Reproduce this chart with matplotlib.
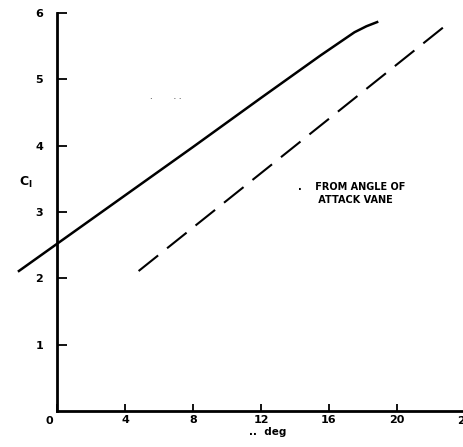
import matplotlib
matplotlib.use("Agg")
import matplotlib.pyplot as plt

# solid curve: lift coefficient vs angle
alpha_solid = [-2.3, 0, 4, 8, 12, 15.5, 17.5, 18.2, 18.9]
cl_solid = [2.10, 2.52, 3.25, 3.98, 4.72, 5.36, 5.71, 5.80, 5.87]

# dashed curve: from angle of attack vane
alpha_vane = [4.8, 22.9]
cl_vane = [2.11, 5.82]

xticks = [0, 4, 8, 12, 16, 20]
xlabels = ['', '4', '8', '12', '16', '20']
yticks = [1, 2, 3, 4, 5, 6]

plt.rcParams['font.family'] = ['DejaVu Sans']
fig = plt.figure(figsize=(4.63, 4.47), dpi=100)
ax = fig.add_axes([57 / 463, 1 - 411 / 447, 406 / 463, 398 / 447])

ax.plot(alpha_solid, cl_solid, color='black', lw=1.8, clip_on=False,
        solid_capstyle='butt')
ax.plot(alpha_vane, cl_vane, color='black', lw=1.5, dashes=(12, 5.5),
        clip_on=False)

ax.set_xlim(0, 406 / 17)
ax.set_ylim(0, 6)
for s in ['top', 'right']:
    ax.spines[s].set_visible(False)
for s in ['left', 'bottom']:
    ax.spines[s].set_linewidth(2)

ax.set_xticks(xticks)
ax.set_xticklabels(xlabels)
ax.set_yticks(yticks)
ax.tick_params(axis='y', direction='in', length=7, width=1.3, pad=10,
               labelsize=8)
ax.tick_params(axis='x', direction='in', length=5, width=1.3, pad=3,
               labelsize=8)
for lab in ax.get_xticklabels() + ax.get_yticklabels():
    lab.set_fontweight('bold')

ax.text(-0.2, -0.07, '0', ha='right', va='top', fontsize=8,
        fontweight='bold')
ax.text(24, -0.07, '24', ha='center', va='top', fontsize=8,
        fontweight='bold', clip_on=False)

ax.text(-38 / 17, 3.45, r'$\mathbf{C_l}$', fontsize=9, ha='left', va='center')
ax.text(12.4, -0.32, '..  deg', fontsize=7.5, fontweight='bold',
        ha='center', va='center')
ax.text(14.2, 3.28, '.    FROM ANGLE OF\n      ATTACK VANE', fontsize=7,
        fontweight='bold', ha='left', va='center', linespacing=1.3)
ax.text(5.5, 4.74, '.        . .', fontsize=6, ha='left', va='center')

fig.savefig('out.png', dpi=100)
